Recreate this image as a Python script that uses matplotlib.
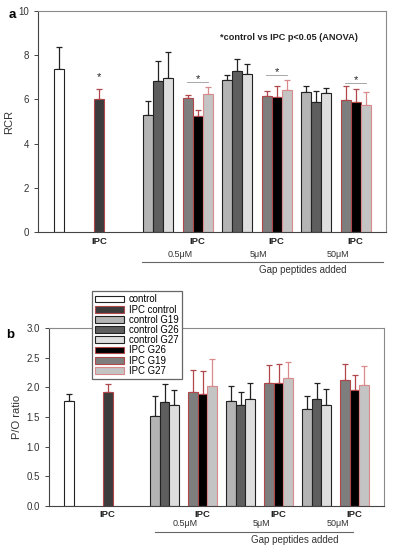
import matplotlib.pyplot as plt
from matplotlib.patches import Patch
from matplotlib.transforms import blended_transform_factory

plt.rcParams["font.family"] = ["Liberation Sans", "DejaVu Sans"]

# 1. Data
conc_labels = ["0.5μM", "5μM", "50μM"]
series = ["control", "IPC control", "control G19", "control G26", "control G27",
          "IPC G26", "IPC G19", "IPC G27"]

# single bars: control, IPC control
rcr_single = [7.38, 6.02]
rcr_single_err = [0.98, 0.44]
po_single = [1.77, 1.92]
po_single_err = [0.12, 0.14]

# grouped bars, one value per concentration (0.5, 5, 50 uM)
rcr_ctrl_g19 = [5.28, 6.88, 6.32]
rcr_ctrl_g26 = [6.82, 7.30, 5.88]
rcr_ctrl_g27 = [6.95, 7.14, 6.28]
rcr_ipc_g19 = [6.08, 6.15, 5.97]
rcr_ipc_g26 = [5.26, 6.12, 5.88]
rcr_ipc_g27 = [6.23, 6.43, 5.75]
rcr_ctrl_g19_err = [0.63, 0.23, 0.30]
rcr_ctrl_g26_err = [0.90, 0.54, 0.50]
rcr_ctrl_g27_err = [1.20, 0.45, 0.22]
rcr_ipc_g19_err = [0.10, 0.24, 0.64]
rcr_ipc_g26_err = [0.26, 0.49, 0.58]
rcr_ipc_g27_err = [0.32, 0.45, 0.57]

po_ctrl_g19 = [1.52, 1.77, 1.64]
po_ctrl_g26 = [1.76, 1.71, 1.80]
po_ctrl_g27 = [1.71, 1.80, 1.71]
po_ipc_g19 = [1.92, 2.07, 2.12]
po_ipc_g26 = [1.88, 2.08, 1.95]
po_ipc_g27 = [2.02, 2.16, 2.04]
po_ctrl_g19_err = [0.33, 0.25, 0.22]
po_ctrl_g26_err = [0.30, 0.21, 0.28]
po_ctrl_g27_err = [0.25, 0.28, 0.27]
po_ipc_g19_err = [0.38, 0.31, 0.27]
po_ipc_g26_err = [0.40, 0.31, 0.25]
po_ipc_g27_err = [0.45, 0.26, 0.32]

sig_line_y = [6.8, 7.1, 6.75]

# 2. Styles
RED = "#b0474b"
PINK = "#d98a8c"
style = {
    "control": dict(fc="white", ec="#222222", err="#222222"),
    "IPC control": dict(fc="#3c3c3c", ec=RED, err=RED),
    "control G19": dict(fc="#b4b4b4", ec="#222222", err="#222222"),
    "control G26": dict(fc="#5e5e5e", ec="#222222", err="#222222"),
    "control G27": dict(fc="#dedede", ec="#222222", err="#222222"),
    "IPC G26": dict(fc="#000000", ec=RED, err=RED),
    "IPC G19": dict(fc="#7e7e7e", ec=RED, err=RED),
    "IPC G27": dict(fc="#c4c4c4", ec=PINK, err=PINK),
}

single_x = [2.1, 6.1]
group_start = 11.0
group_step = 3.95
bar_w = 1.0


def bar(ax, x, h, e, name):
    s = style[name]
    ax.bar(x, h, width=bar_w, color=s["fc"], edgecolor=s["ec"], linewidth=0.8, zorder=2)
    ax.errorbar(x, h, yerr=[[0] * len(h), e], fmt="none", ecolor=s["err"],
                elinewidth=0.9, capsize=2.5, capthick=0.9, zorder=1)


def draw_panel(ax, single, single_err, ctrl, ctrl_err, ipc, ipc_err):
    bar(ax, [single_x[0]], [single[0]], [single_err[0]], "control")
    bar(ax, [single_x[1]], [single[1]], [single_err[1]], "IPC control")
    ctrl_names = ["control G19", "control G26", "control G27"]
    ipc_names = ["IPC G19", "IPC G26", "IPC G27"]
    for j in range(3):
        xc = [group_start + group_step * 2 * k + j for k in range(3)]
        xi = [group_start + group_step * (2 * k + 1) + j for k in range(3)]
        bar(ax, xc, ctrl[j], ctrl_err[j], ctrl_names[j])
        bar(ax, xi, ipc[j], ipc_err[j], ipc_names[j])
    ax.set_xlim(0, 34.8)
    ax.set_xticks([])
    for sp in ["top", "right"]:
        ax.spines[sp].set_color("#8a8a8a")
    for sp in ["left", "bottom"]:
        ax.spines[sp].set_color("#444444")
    for sp in ax.spines.values():
        sp.set_linewidth(0.8)
    ax.tick_params(axis="y", labelsize=7, length=3, width=0.7, colors="#444444",
                   labelcolor="#333333")


def x_labels(ax, y_ipc, y_conc, y_line, y_gap, line_x, gap_x):
    tr = blended_transform_factory(ax.transData, ax.transAxes)
    ipc_x = [single_x[1]] + [group_start + group_step * (2 * k + 1) + 1 for k in range(3)]
    for x in ipc_x:
        ax.text(x, y_ipc, "IPC", transform=tr, ha="center", va="center",
                fontsize=6.8, fontweight="bold", color="#222222")
    for k, lab in enumerate(conc_labels):
        x = group_start + group_step * (2 * k + 1) - 0.5 - (group_step - 3) / 2
        ax.text(x + 0.2, y_conc, lab, transform=tr, ha="center", va="center",
                fontsize=6.5, color="#333333")
    ax.plot(line_x, [y_line, y_line], transform=tr, color="#666666", lw=0.8,
            clip_on=False)
    ax.text(gap_x, y_gap, "Gap peptides added", transform=tr, ha="center", va="center",
            fontsize=7, color="#333333")


fig = plt.figure(figsize=(3.95, 5.5), dpi=100)
W, H = 395, 550
ax_a = fig.add_axes([38 / W, 1 - 232 / H, 348 / W, 221 / H])
ax_b = fig.add_axes([49 / W, 1 - 506 / H, 335 / W, 178 / H])

# 3. Panel a
draw_panel(ax_a, rcr_single, rcr_single_err,
           [rcr_ctrl_g19, rcr_ctrl_g26, rcr_ctrl_g27],
           [rcr_ctrl_g19_err, rcr_ctrl_g26_err, rcr_ctrl_g27_err],
           [rcr_ipc_g19, rcr_ipc_g26, rcr_ipc_g27],
           [rcr_ipc_g19_err, rcr_ipc_g26_err, rcr_ipc_g27_err])
ax_a.set_ylim(0, 10)
ax_a.set_yticks([0, 2, 4, 6, 8, 10])
ax_a.set_ylabel("RCR", fontsize=8, color="#333333", labelpad=3)
ax_a.text(0.72, 0.878, "*control vs IPC p<0.05 (ANOVA)", transform=ax_a.transAxes,
          ha="center", va="center", fontsize=6.6, fontweight="bold", color="#222222")
ax_a.text(single_x[1], rcr_single[1] + rcr_single_err[1] + 0.55, "*", ha="center",
          va="center", fontsize=8, color="#222222")
for k in range(3):
    x0 = group_start + group_step * (2 * k + 1)
    ax_a.plot([x0 - 0.1, x0 + 2.05], [sig_line_y[k]] * 2, color="#999999", lw=0.6)
    ax_a.text(x0 + 1.0, sig_line_y[k] + 0.12, "*", ha="center", va="center",
              fontsize=8, color="#222222")
x_labels(ax_a, -0.045, -0.10, -0.136, -0.172, [10.4, 34.5], 26.5)

# 4. Panel b
draw_panel(ax_b, po_single, po_single_err,
           [po_ctrl_g19, po_ctrl_g26, po_ctrl_g27],
           [po_ctrl_g19_err, po_ctrl_g26_err, po_ctrl_g27_err],
           [po_ipc_g19, po_ipc_g26, po_ipc_g27],
           [po_ipc_g19_err, po_ipc_g26_err, po_ipc_g27_err])
ax_b.set_ylim(0, 3.0)
ax_b.set_yticks([0, 0.5, 1.0, 1.5, 2.0, 2.5, 3.0])
ax_b.set_yticklabels(["0.0", "0.5", "1.0", "1.5", "2.0", "2.5", "3.0"])
ax_b.set_ylabel("P/O ratio", fontsize=8, color="#333333", labelpad=3)
x_labels(ax_b, -0.045, -0.10, -0.146, -0.19, [11.0, 31.6], 25.5)

fig.text(12 / W, 1 - 15 / H, "a", fontsize=9.5, fontweight="bold", ha="center", va="center")
fig.text(10 / W, 1 - 335 / H, "b", fontsize=9.5, fontweight="bold", ha="center", va="center")

handles = [Patch(facecolor=style[n]["fc"], edgecolor=style[n]["ec"], linewidth=0.8)
           for n in series]
leg = fig.legend(handles, series, loc="upper left", bbox_to_anchor=(92 / W, 1 - 291 / H),
                 fontsize=6.9, frameon=True, fancybox=False, framealpha=1,
                 edgecolor="#666666", handlelength=3.0, handleheight=0.7,
                 labelspacing=0.02, borderpad=0.35, handletextpad=0.5, borderaxespad=0)
leg.get_frame().set_linewidth(0.9)

fig.savefig("out.png", dpi=100)
